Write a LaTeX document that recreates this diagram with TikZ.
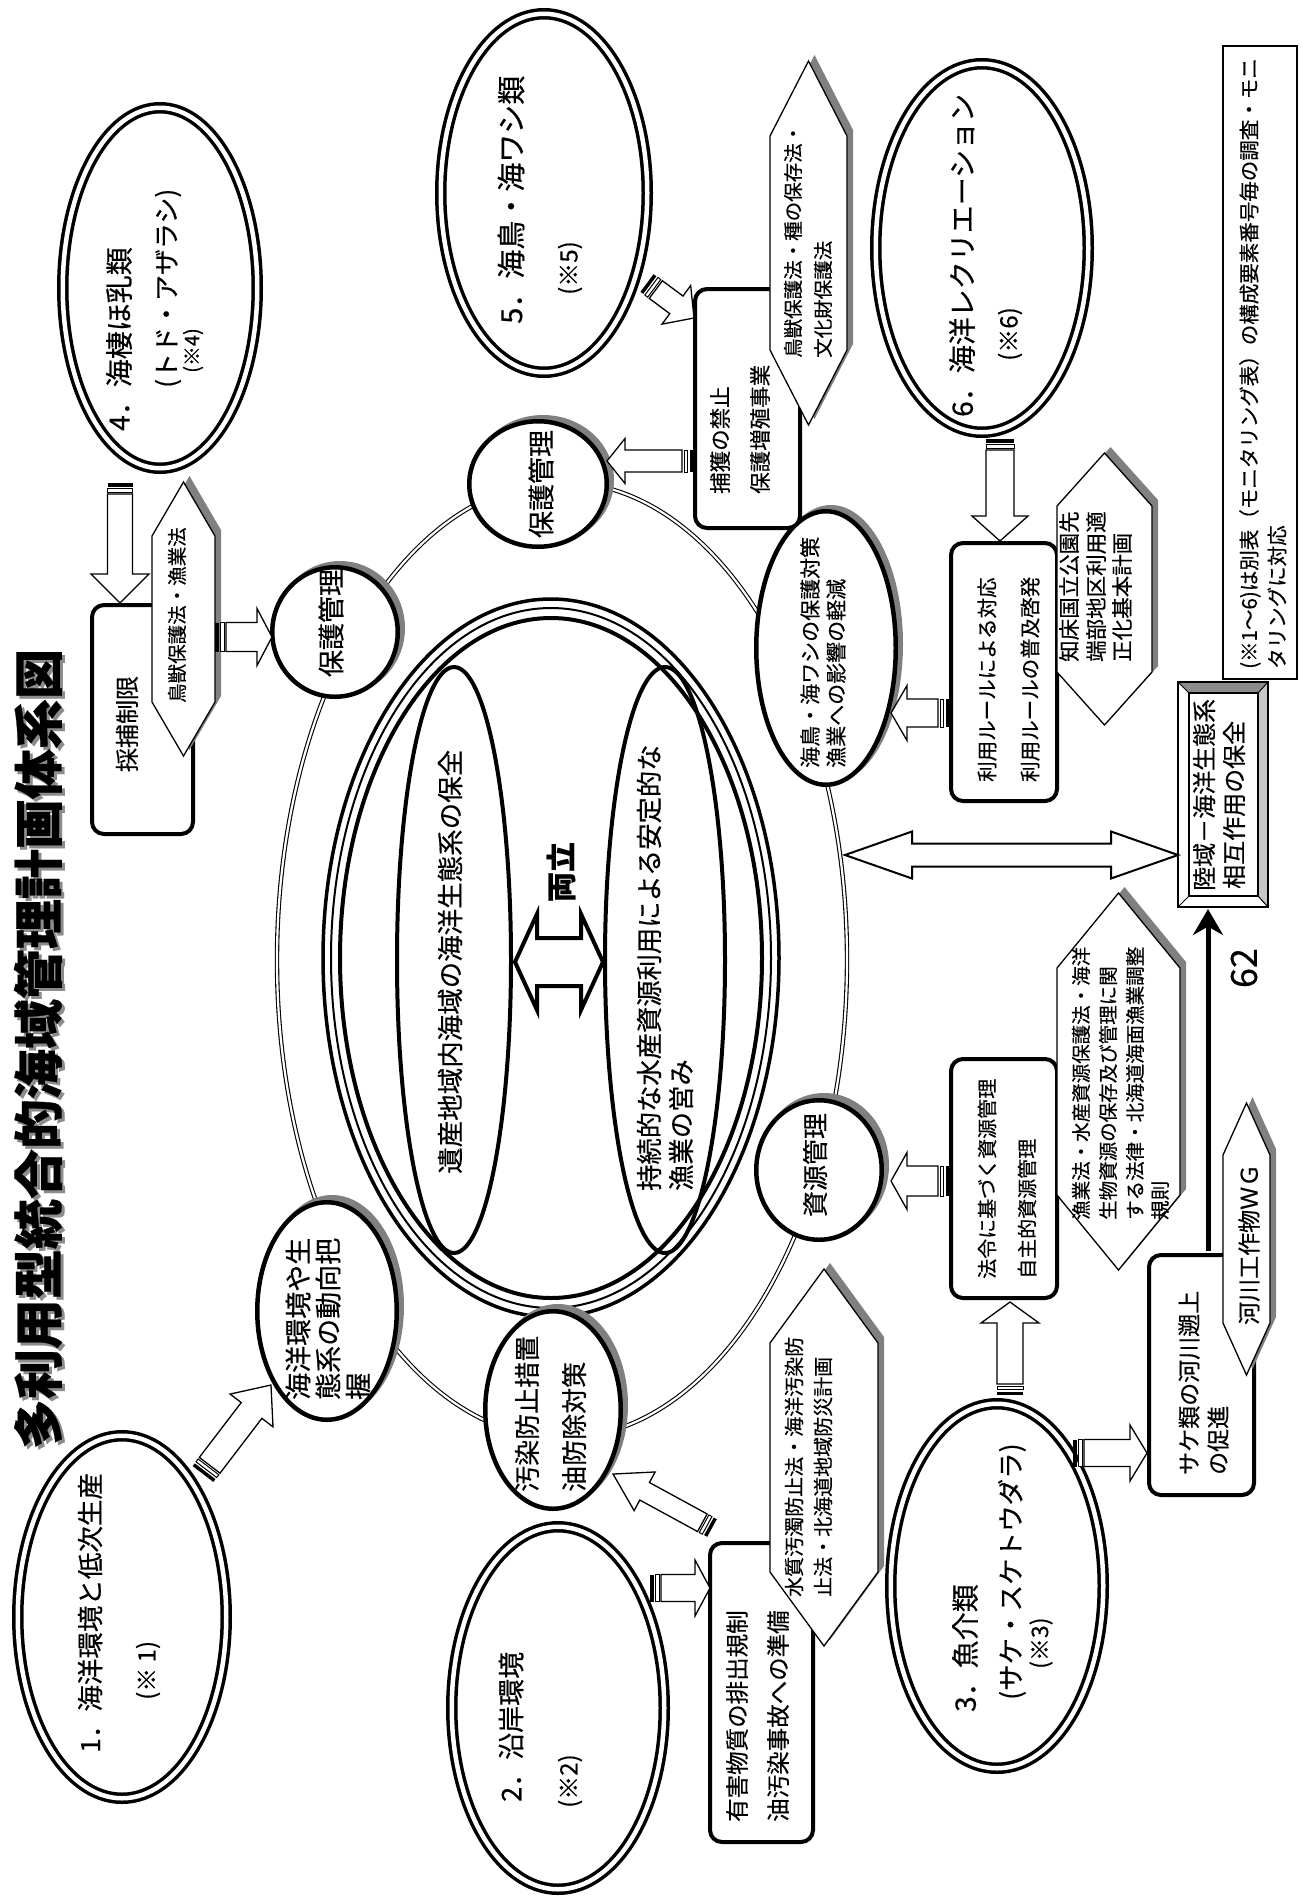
\documentclass[tikz,border=0pt]{standalone}
\usepackage{fontspec}
\setmainfont{Noto Sans CJK JP}[FakeBold=0.4]
\usetikzlibrary{shapes.geometric,calc,arrows.meta}
\newcommand\fs[1]{\fontsize{#1}{#1}\selectfont}
% hollow striped block arrow: #1 from, #2 to, #3 half shaft, #4 half head, #5 head length
\newcommand\barr[5]{%
  \path let \p1=($(#2)-(#1)$) in \pgfextra{\pgfmathsetmacro\barang{atan2(\y1,\x1)}\pgfmathsetmacro\barlen{veclen(\x1,\y1)}\global\let\barang\barang\global\let\barlen\barlen};
  \begin{scope}[shift={(#1)},rotate=\barang]
    \fill[black] (0,-#3) rectangle (3.5,#3);
    \draw[line width=1pt,fill=white] (5.5,-#3) rectangle (9,#3);
    \draw[line width=1.3pt,fill=white,line join=miter] (11,-#3) -- ({\barlen-#5},-#3) -- ({\barlen-#5},-#4) -- (\barlen,0) -- ({\barlen-#5},#4) -- ({\barlen-#5},#3) -- (11,#3) -- cycle;
  \end{scope}}
% hollow double arrow: #1 from, #2 to, #3 half shaft, #4 half head, #5 head length, #6 line width
\newcommand\dbarr[6]{%
  \path let \p1=($(#2)-(#1)$) in \pgfextra{\pgfmathsetmacro\barang{atan2(\y1,\x1)}\pgfmathsetmacro\barlen{veclen(\x1,\y1)}\global\let\barang\barang\global\let\barlen\barlen};
  \begin{scope}[shift={(#1)},rotate=\barang]
    \draw[line width=#6,fill=white,line join=miter] (0,0) -- (#5,-#4) -- (#5,-#3) -- ({\barlen-#5},-#3) -- ({\barlen-#5},-#4) -- (\barlen,0) -- ({\barlen-#5},#4) -- ({\barlen-#5},#3) -- (#5,#3) -- (#5,#4) -- cycle;
  \end{scope}}
% hexagon with shadow: #1 name, #2 cx, #3 cy, #4 half width, #5 half height, #6 point length
\newcommand\hexa[6]{%
  \begin{scope}[shift={(#2,#3)}]
    \fill[black!50] (6,-#5-6) -- (#4+6,-#5+#6-6) -- (#4+6,#5-#6-6) -- (6,#5-6) -- (-#4+6,#5-#6-6) -- (-#4+6,-#5+#6-6) -- cycle;
    \draw[line width=1.3pt,fill=white,line join=miter] (0,-#5) -- (#4,-#5+#6) -- (#4,#5-#6) -- (0,#5) -- (-#4,#5-#6) -- (-#4,-#5+#6) -- cycle;
  \end{scope}
  \coordinate (#1) at (#2,#3);}
\begin{document}
\begin{tikzpicture}[x=1pt,y=-1pt,
  dov/.style={ellipse,draw,fill=white,line width=3.5pt,double=white,double distance=4.5pt,inner sep=0pt},
  sov/.style={ellipse,draw,fill=white,line width=4.5pt,inner sep=0pt},
  rbox/.style={draw,fill=white,line width=4pt,rounded corners=12pt,inner sep=0pt},
  tl/.style={rotate=90,inner sep=0pt,anchor=west},
  tc/.style={rotate=90,inner sep=0pt,anchor=center}]
\useasboundingbox (0,0) rectangle (1303,1899);
\fill[white] (0,0) rectangle (1303,1899);

% ---- big thin double ring and central triple ring
\node[ellipse,draw,line width=1.1pt,double=white,double distance=2.2pt,inner sep=0pt,minimum width=570pt,minimum height=956pt] (ring) at (562,960) {};
\node[ellipse,draw,line width=3.5pt,inner sep=0pt,minimum width=456pt,minimum height=718pt] (cr1) at (551,958) {};
\node[ellipse,draw,line width=2pt,inner sep=0pt,minimum width=440pt,minimum height=700pt] (cr2) at (551,958) {};
\node[ellipse,draw,line width=4pt,inner sep=0pt,minimum width=422pt,minimum height=680pt] (cr3) at (551,958) {};
\node[ellipse,draw,line width=4pt,inner sep=0pt,minimum width=114pt,minimum height=586pt] (il) at (454,960) {};
\node[ellipse,draw,line width=4pt,inner sep=0pt,minimum width=120pt,minimum height=586pt] (ir) at (665,960) {};
\coordinate (bothL) at (515,962); \coordinate (bothR) at (603,962);
\dbarr{bothL}{bothR}{24}{48}{22}{4pt}

% ---- numbered double ovals
\node[dov,minimum width=194.5pt,minimum height=360.5pt] (ov4) at (160,288) {};
\node[dov,minimum width=206.5pt,minimum height=358.5pt] (ov5) at (544,193) {};
\node[dov,minimum width=212.5pt,minimum height=368.5pt] (ov6) at (982,248) {};
\node[dov,minimum width=208.5pt,minimum height=362.5pt] (ov1) at (122,1617) {};
\node[dov,minimum width=212.5pt,minimum height=362.5pt] (ov2) at (558,1708) {};
\node[dov,minimum width=212.5pt,minimum height=364.5pt] (ov3) at (997,1586) {};

% ---- single ovals with shadow
\fill[black!50] (543,480) ellipse [x radius=71,y radius=65];
\node[sov,minimum width=137.5pt,minimum height=125.5pt] (sk1) at (538,484) {};
\fill[black!50] (340,628) ellipse [x radius=65,y radius=67];
\node[sov,minimum width=125.5pt,minimum height=129.5pt] (sk2) at (335,632) {};
\fill[black!50] (831,644) ellipse [x radius=72,y radius=139];
\node[sov,minimum width=139.5pt,minimum height=273.5pt] (sk3) at (826,648) {};
\fill[black!50] (824,1165) ellipse [x radius=65,y radius=72];
\node[sov,minimum width=125.5pt,minimum height=139.5pt] (sk4) at (819,1170) {};
\fill[black!50] (558,1405) ellipse [x radius=70,y radius=101];
\node[sov,minimum width=135.5pt,minimum height=197.5pt] (sk5) at (553,1410) {};
\fill[black!50] (332,1306) ellipse [x radius=72,y radius=111];
\node[sov,minimum width=139.5pt,minimum height=217.5pt] (sk6) at (327,1311) {};

% ---- rounded boxes
\node[rbox,minimum width=101pt,minimum height=229pt] (bx1) at (142.5,719.5) {};
\node[rbox,minimum width=105pt,minimum height=239pt] (bx2) at (747.5,408.5) {};
\node[rbox,minimum width=106pt,minimum height=258pt] (bx3) at (1004,672) {};
\node[rbox,minimum width=106pt,minimum height=239pt] (bx4) at (1004,1178.5) {};
\node[rbox,minimum width=105pt,minimum height=240pt] (bx5) at (1201.5,1375) {};
\node[rbox,minimum width=103pt,minimum height=299pt] (bx6) at (761.5,1692.5) {};

% ---- hexagons (law labels)
\hexa{hx1}{183.5}{619}{31.5}{137}{54}
\hexa{hx2}{808.5}{243}{38.5}{182}{75}
\hexa{hx3}{1104.5}{589}{47.5}{136}{53}
\hexa{hx4}{1118.5}{1081.5}{61.5}{188.5}{75}
\hexa{hx5}{1246.5}{1239}{23.5}{136}{52}
\hexa{hx6}{824}{1457.5}{54}{188.5}{74}

% ---- bevel box and note box
\node[inner sep=0pt,minimum width=90pt,minimum height=225pt] (rk) at (1223,794.5) {};
\fill[white] (1178,682) rectangle (1268,907);
\fill[black!45] (1178,682) -- (1268,682) -- (1258,693) -- (1189,693) -- cycle;
\fill[black!22] (1268,682) -- (1268,907) -- (1258,896) -- (1258,693) -- cycle;
\draw[line width=1.2pt] (1189,693) rectangle (1258,896);
\draw[line width=1pt] (1178,682) -- (1189,693) (1268,682) -- (1258,693) (1178,907) -- (1189,896) (1268,907) -- (1258,896);
\draw[line width=2pt] (rk.north west) rectangle (rk.south east);
\node[draw,line width=1.5pt,inner sep=0pt,minimum width=74pt,minimum height=633pt] (nb) at (1260,362.5) {};

% ---- block arrows
\coordinate (a1s) at (203,1474); \coordinate (a1e) at (271,1385);
\coordinate (a2s) at (120,483);  \coordinate (a2e) at (120,603);
\coordinate (a3s) at (215,637);  \coordinate (a3e) at (272,637);
\coordinate (a4s) at (647,283);  \coordinate (a4e) at (694,318);
\coordinate (a5s) at (693,461);  \coordinate (a5e) at (607,461);
\coordinate (a6s) at (1000,439); \coordinate (a6e) at (1000,541);
\coordinate (a7s) at (949,713);  \coordinate (a7e) at (891,713);
\coordinate (a8s) at (949,1181); \coordinate (a8e) at (891,1181);
\coordinate (a9s) at (1010,1395); \coordinate (a9e) at (1010,1302);
\coordinate (a10s) at (1073,1453); \coordinate (a10e) at (1147,1453);
\coordinate (a11s) at (712,1528); \coordinate (a11e) at (613,1474);
\coordinate (a12s) at (650,1588); \coordinate (a12e) at (710,1588);
\barr{a1s}{a1e}{13}{27}{32}
\barr{a2s}{a2e}{12.5}{29}{29}
\barr{a3s}{a3e}{14.5}{28.5}{15}
\barr{a4s}{a4e}{11}{24}{22}
\barr{a5s}{a5e}{11}{22.5}{18}
\barr{a6s}{a6e}{14}{28}{25}
\barr{a7s}{a7e}{14}{27.5}{16}
\barr{a8s}{a8e}{15}{28.5}{16}
\barr{a9s}{a9e}{13}{29}{21}
\barr{a10s}{a10e}{13.5}{28}{17}
\barr{a11s}{a11e}{10}{22}{36}
\barr{a12s}{a12e}{13.5}{28}{15}
\coordinate (ddL) at (845,855); \coordinate (ddR) at (1178,855);
\dbarr{ddL}{ddR}{11.5}{23.5}{67}{2pt}
\coordinate (lnS) at (1208,1251); \coordinate (lnE) at (1208,909);
\draw[line width=5pt,-{Stealth[length=26pt,width=30pt]}] (lnS) -- (lnE);

% ---- title
\node[rotate=90,inner sep=0pt,font=\fs{50}\bfseries,text=black!45] (titsh) at (41,1052) {多利用型統合的海域管理計画体系図};
\node[rotate=90,inner sep=0pt,font=\fs{50}\bfseries] (title) at (38,1049) {多利用型統合的海域管理計画体系図};

% ---- texts
\node[tl,font=\fs{28}] (t4a) at (119,431) {4．海棲ほ乳類};
\node[tl,font=\fs{26}] (t4b) at (168,388) {(トド・アザラシ)};
\node[tl,font=\fs{20}] (t4c) at (193,373) {(※4)};
\node[tl,font=\fs{29}] (t5a) at (511,324) {5．海鳥・海ワシ類};
\node[tl,font=\fs{24}] (t5b) at (570,295) {(※5)};
\node[tl,font=\fs{28}] (t6a) at (962,417) {6．海洋レクリエーション};
\node[tl,font=\fs{24}] (t6b) at (1010,361) {(※6)};
\node[tl,font=\fs{26.5}] (t1a) at (90,1753) {1．海洋環境と低次生産};
\node[tl,font=\fs{24}] (t1b) at (148,1700) {(※ 1)};
\node[tl,font=\fs{27}] (t2a) at (511,1802) {2．沿岸環境};
\node[tl,font=\fs{24}] (t2b) at (570,1808) {(※2)};
\node[tl,font=\fs{28}] (t3a) at (965,1712) {3．魚介類};
\node[tl,font=\fs{26.5}] (t3b) at (1012,1700) {(サケ・スケトウダラ)};
\node[tl,font=\fs{23}] (t3c) at (1041,1669) {(※3)};

\node[tc,font=\fs{27}] (tsk1) at (541,484) {保護管理};
\node[tc,font=\fs{27}] (tsk2) at (331,623) {保護管理};
\node[tc,font=\fs{26}] (tsk4) at (815,1165) {資源管理};
\node[tl,font=\fs{27}] (tsk6a) at (298,1400) {海洋環境や生};
\node[tl,font=\fs{27}] (tsk6b) at (328,1400) {態系の動向把};
\node[tl,font=\fs{27}] (tsk6c) at (358,1400) {握};
\node[tl,font=\fs{26}] (tsk5a) at (527,1492) {汚染防止措置};
\node[tl,font=\fs{26}] (tsk5b) at (574,1492) {油防除対策};
\node[tl,font=\fs{21}] (tsk3a) at (810,768) {海鳥・海ワシの保護対策};
\node[tl,font=\fs{21}] (tsk3b) at (836,768) {漁業への影響の軽減};

\node[tc,font=\fs{24}] (tbx1) at (127,724) {採捕制限};
\node[tl,font=\fs{19.5}] (thx1) at (177,703) {鳥獣保護法・漁業法};
\node[tl,font=\fs{21.5}] (tbx2a) at (720,494) {捕獲の禁止};
\node[tl,font=\fs{21.5}] (tbx2b) at (760,494) {保護増殖事業};
\node[tl,font=\fs{19.5}] (thx2a) at (793,358) {鳥獣保護法・種の保存法・};
\node[tl,font=\fs{19.5}] (thx2b) at (823,358) {文化財保護法};
\node[tl,font=\fs{20.5}] (tbx3a) at (987,782) {利用ルールによる対応};
\node[tl,font=\fs{20.5}] (tbx3b) at (1030,782) {利用ルールの普及啓発};
\node[tl,font=\fs{21.5}] (thx3a) at (1069,662) {知床国立公園先};
\node[tl,font=\fs{21.5}] (thx3b) at (1096,662) {端部地区利用適};
\node[tl,font=\fs{21.5}] (thx3c) at (1122,662) {正化基本計画};
\node[tl,font=\fs{24}] (trka) at (1204,891) {陸域－海洋生態系};
\node[tl,font=\fs{24}] (trkb) at (1234,889) {相互作用の保全};
\node[tl,font=\fs{20.5}] (tnba) at (1250,669) {(※1～6)は別表（モニタリング表）の構成要素番号毎の調査・モニ};
\node[tl,font=\fs{20.5}] (tnbb) at (1277,669) {タリングに対応};
\node[tc,font=\fs{36}] (t62) at (1244,968) {62};
\node[tl,font=\fs{20}] (tbx4a) at (987,1279) {法令に基づく資源管理};
\node[tl,font=\fs{20}] (tbx4b) at (1027,1279) {自主的資源管理};
\node[tl,font=\fs{19.5}] (thx4a) at (1081,1220) {漁業法・水産資源保護法・海洋};
\node[tl,font=\fs{19.5}] (thx4b) at (1108,1220) {生物資源の保存及び管理に関};
\node[tl,font=\fs{19.5}] (thx4c) at (1135,1220) {する法律・北海道海面漁業調整};
\node[tl,font=\fs{19.5}] (thx4d) at (1160,1220) {規則};
\node[tl,font=\fs{23}] (tbx5a) at (1189,1475) {サケ類の河川遡上};
\node[tl,font=\fs{23}] (tbx5b) at (1218,1475) {の促進};
\node[tl,font=\fs{23}] (thx5) at (1249,1325) {河川工作物ＷＧ};
\node[tl,font=\fs{23.5}] (tbx6a) at (737,1822) {有害物質の排出規制};
\node[tl,font=\fs{23.5}] (tbx6b) at (778,1822) {油汚染事故への準備};
\node[tl,font=\fs{20}] (thx6a) at (794,1597) {水質汚濁防止法・海洋汚染防};
\node[tl,font=\fs{20}] (thx6b) at (823,1597) {止法・北海道地域防災計画};
\node[tl,font=\fs{26.5}] (til) at (450,1174) {遺産地域内海域の海洋生態系の保全};
\node[tl,font=\fs{26.3}] (tira) at (649,1191) {持続的な水産資源利用による安定的な};
\node[tl,font=\fs{26.3}] (tirb) at (681,1191) {漁業の営み};
\node[tc,font=\fs{30}\bfseries] (tboth) at (561,872) {両立};
\end{tikzpicture}
\end{document}
